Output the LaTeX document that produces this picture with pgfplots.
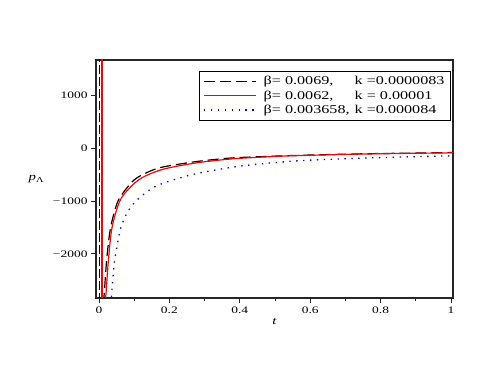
\documentclass[border=0pt]{standalone}
\usepackage{fontspec}
\setmainfont{Liberation Serif}[FakeStretch=1.35]
\usepackage{pgfplots}
\pgfplotsset{compat=1.18}

\begin{document}
\begin{tikzpicture}
\begin{axis}[
    scale only axis,
    width=357bp, height=238bp,
    xmin=-0.0085, xmax=1.0057,
    ymin=-2838, ymax=1676,
    axis line style={line width=1.1bp, black!85},
    tick align=outside,
    xtick pos=left, ytick pos=left,
    major tick length=5bp, minor tick length=3bp,
    tick style={black!85, line width=0.8bp},
    xtick={0,0.2,0.4,0.6,0.8,1},
    xticklabels={0,0.2,0.4,0.6,0.8,1},
    minor x tick num=1,
    ytick={-2000,-1000,0,1000},
    yticklabels={−2000,−1000,0,1000},
    tick label style={font=\fontsize{10}{12}\selectfont},
    xlabel={\textit{t}},
    ylabel={\textit{p}\textsubscript{Λ}},
    label style={font=\fontsize{11}{13}\selectfont},
    ylabel style={rotate=-90, xshift=-2bp},
    xlabel style={yshift=2bp},
    legend cell align=left,
    legend style={at={(rel axis cs:0.994,0.954)}, anchor=north east,
        draw=black, line width=0.7bp,
        font=\fontsize{12}{14}\selectfont,
        inner xsep=4bp, inner ysep=3bp,
        row sep=0.5bp},
    legend image code/.code={\draw[#1] (0bp,0bp) -- (52bp,0bp);},
]
% discontinuity lines near t = 0
\addplot[black, line width=1.4bp, dash pattern=on 9bp off 3bp, forget plot]
    coordinates {(0.002,1800) (0.002,-3000)};
\addplot[red, line width=1.3bp, forget plot]
    coordinates {(0.0085,1800) (0.0085,-3000)};

\addplot[black, line width=1.2bp, dash pattern=on 11bp off 5bp, smooth]
    coordinates {
    (0.012,-2950) (0.015,-2747) (0.022,-2105) (0.033,-1503) (0.054,-1000)
    (0.088,-680) (0.109,-554) (0.147,-427) (0.183,-351) (0.277,-250)
    (0.372,-184) (0.45,-160) (0.543,-137) (0.65,-118) (0.75,-103)
    (0.87,-91) (1.0,-80) (1.01,-79)
    };
\addlegendentry{\hspace{5bp}\makebox[91bp][l]{β= 0.0069,}k =0.0000083}

\addplot[color=red, line width=1.2bp, smooth]
    coordinates {
    (0.017,-2950) (0.020,-2747) (0.027,-2105) (0.037,-1503) (0.059,-1000)
    (0.088,-744) (0.123,-554) (0.183,-395) (0.277,-275) (0.372,-203)
    (0.45,-170) (0.543,-142) (0.65,-123) (0.75,-108) (0.87,-96)
    (1.0,-85) (1.01,-84)
    };
\addlegendentry{\hspace{5bp}\makebox[91bp][l]{β= 0.0062,}k = 0.00001}

\addplot[blue, line width=1.3bp, dash pattern=on 1.4bp off 5.5bp, smooth]
    coordinates {
    (0.034,-2950) (0.038,-2600) (0.043,-2200) (0.050,-1900) (0.060,-1550)
    (0.074,-1300) (0.092,-1100) (0.116,-930) (0.15,-760) (0.183,-660)
    (0.23,-560) (0.277,-478) (0.372,-364) (0.45,-300) (0.562,-237)
    (0.65,-210) (0.75,-185) (0.87,-162) (1.0,-142) (1.01,-141)
    };
\addlegendentry{\hspace{5bp}\makebox[91bp][l]{β= 0.003658, }k =0.000084}
\end{axis}
\path (current axis.south west) ++(-96bp,-84bp) rectangle ++(491bp,382bp);
\end{tikzpicture}
\end{document}
